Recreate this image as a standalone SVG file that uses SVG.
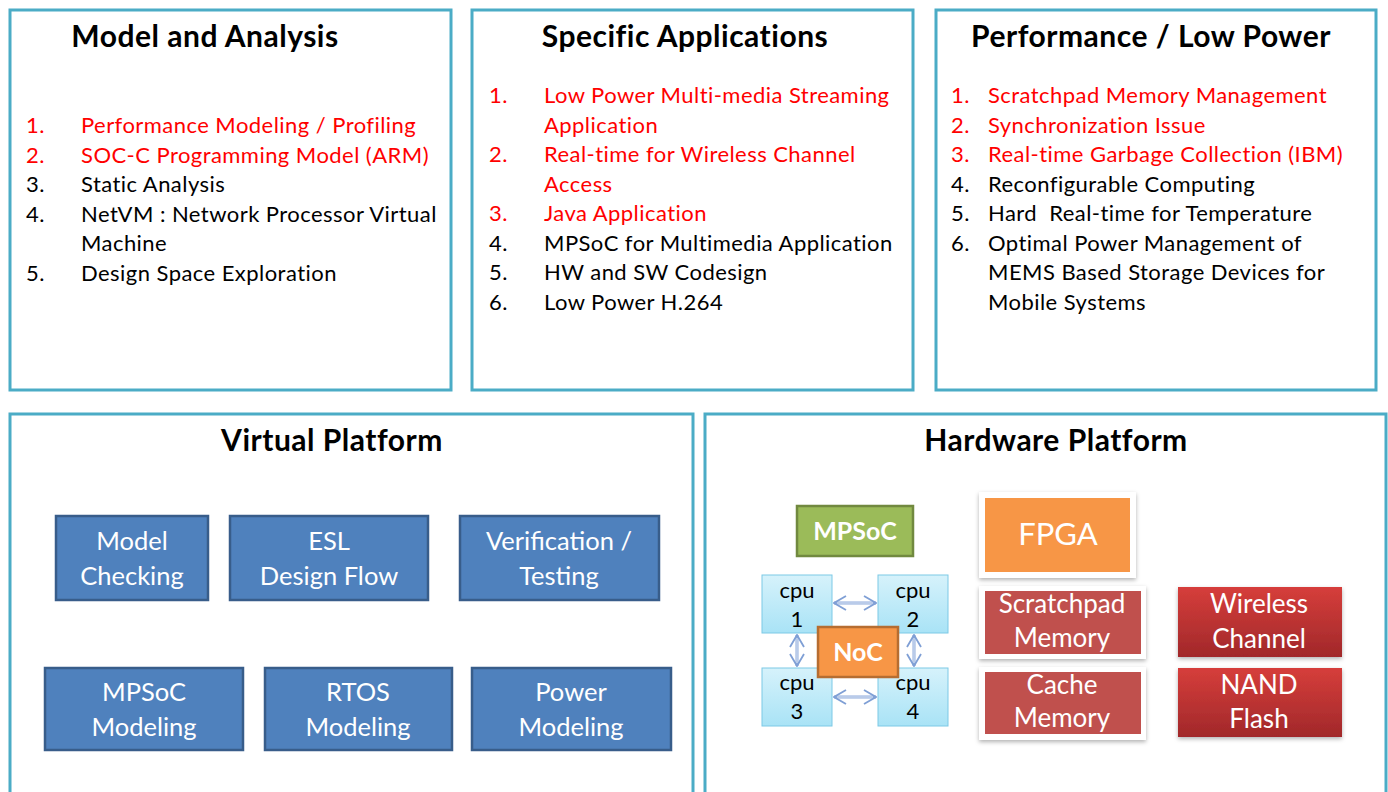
<svg xmlns="http://www.w3.org/2000/svg" width="1388" height="792" viewBox="0 0 1388 792">
<defs>
<style>
text{font-family:Lato,"Noto Sans","Liberation Sans",sans-serif}
.panel{fill:#fff;stroke:#4bacc6;stroke-width:3}
.title{font-size:30px;font-weight:bold;fill:#000;text-anchor:middle;letter-spacing:0.5px}
.li{font-size:22px;fill:#000;letter-spacing:0.45px}
.red{fill:#ff0000}
.vbox{fill:#4f81bd;stroke:#385d8a;stroke-width:2.5}
.vt{font-size:25.5px;fill:#fff;text-anchor:middle}
.cpu{fill:url(#cpuG);stroke:#7cc9e6;stroke-width:1}
.ct{font-size:22px;fill:#000;text-anchor:middle}
.frame{fill:#fff;filter:url(#sh)}
.wt{font-size:26px;fill:#fff;text-anchor:middle}
.conn{stroke:#8eaadb;stroke-width:3;fill:none;marker-start:url(#ah);marker-end:url(#ah)}
.core{stroke:#e4ecf8;stroke-width:1;fill:none}
</style>
<linearGradient id="cpuG" x1="0" y1="0" x2="0" y2="1"><stop offset="0" stop-color="#d6f2fb"/><stop offset="1" stop-color="#a9e3f6"/></linearGradient>
<linearGradient id="redG" x1="0" y1="0" x2="0" y2="1"><stop offset="0" stop-color="#d63e3b"/><stop offset="1" stop-color="#a1282a"/></linearGradient>
<filter id="sh" x="-10%" y="-10%" width="120%" height="130%"><feDropShadow dx="0" dy="2" stdDeviation="2" flood-color="#000" flood-opacity="0.3"/></filter>
<marker id="ah" viewBox="0 0 14 16" refX="13" refY="8" markerWidth="14" markerHeight="16" orient="auto-start-reverse" markerUnits="userSpaceOnUse"><path d="M1,1 L13,8 L1,15" fill="none" stroke="#7f9fd5" stroke-width="1.8"/></marker>
</defs>
<rect width="1388" height="792" fill="#fff"/>

<g id="model-analysis">
<rect class="panel" x="10" y="10" width="441" height="380"/>
<text class="title" x="205" y="47">Model and Analysis</text>
<text class="li red" x="26" y="133">1.</text><text class="li red" x="81" y="133">Performance Modeling / Profiling</text>
<text class="li red" x="26" y="163">2.</text><text class="li red" x="81" y="163">SOC-C Programming Model (ARM)</text>
<text class="li" x="26" y="192">3.</text><text class="li" x="81" y="192">Static Analysis</text>
<text class="li" x="26" y="222">4.</text><text class="li" x="81" y="222">NetVM : Network Processor Virtual</text>
<text class="li" x="81" y="251">Machine</text>
<text class="li" x="26" y="281">5.</text><text class="li" x="81" y="281">Design Space Exploration</text>
</g>

<g id="specific-applications">
<rect class="panel" x="472" y="10" width="441" height="380"/>
<text class="title" x="685" y="47">Specific Applications</text>
<text class="li red" x="489" y="103">1.</text><text class="li red" x="544" y="103">Low Power Multi-media Streaming</text>
<text class="li red" x="544" y="133">Application</text>
<text class="li red" x="489" y="162">2.</text><text class="li red" x="544" y="162">Real-time for Wireless Channel</text>
<text class="li red" x="544" y="192">Access</text>
<text class="li red" x="489" y="221">3.</text><text class="li red" x="544" y="221">Java Application</text>
<text class="li" x="489" y="251">4.</text><text class="li" x="544" y="251">MPSoC for Multimedia Application</text>
<text class="li" x="489" y="280">5.</text><text class="li" x="544" y="280">HW and SW Codesign</text>
<text class="li" x="489" y="310">6.</text><text class="li" x="544" y="310">Low Power H.264</text>
</g>

<g id="performance-low-power">
<rect class="panel" x="936" y="10" width="440" height="380"/>
<text class="title" x="1151" y="47">Performance / Low Power</text>
<text class="li red" x="951" y="103">1.</text><text class="li red" x="988" y="103">Scratchpad Memory Management</text>
<text class="li red" x="951" y="133">2.</text><text class="li red" x="988" y="133">Synchronization Issue</text>
<text class="li red" x="951" y="162">3.</text><text class="li red" x="988" y="162">Real-time Garbage Collection (IBM)</text>
<text class="li" x="951" y="192">4.</text><text class="li" x="988" y="192">Reconfigurable Computing</text>
<text class="li" x="951" y="221">5.</text><text class="li" x="988" y="221" xml:space="preserve">Hard  Real-time for Temperature</text>
<text class="li" x="951" y="251">6.</text><text class="li" x="988" y="251">Optimal Power Management of</text>
<text class="li" x="988" y="280">MEMS Based Storage Devices for</text>
<text class="li" x="988" y="310">Mobile Systems</text>
</g>

<g id="virtual-platform">
<rect class="panel" x="10" y="414" width="683" height="400"/>
<text class="title" x="332" y="451">Virtual Platform</text>
</g>
<g id="model-checking"><rect class="vbox" x="56" y="516" width="152" height="84"/><text class="vt" x="132" y="550">Model</text><text class="vt" x="132" y="585">Checking</text></g>
<g id="esl-design-flow"><rect class="vbox" x="230" y="516" width="198" height="84"/><text class="vt" x="329" y="550">ESL</text><text class="vt" x="329" y="585">Design Flow</text></g>
<g id="verification-testing"><rect class="vbox" x="460" y="516" width="199" height="84"/><text class="vt" x="559" y="550">Verification /</text><text class="vt" x="559" y="585">Testing</text></g>
<g id="mpsoc-modeling"><rect class="vbox" x="45" y="668" width="198" height="82"/><text class="vt" x="144" y="701">MPSoC</text><text class="vt" x="144" y="736">Modeling</text></g>
<g id="rtos-modeling"><rect class="vbox" x="265" y="668" width="187" height="82"/><text class="vt" x="358" y="701">RTOS</text><text class="vt" x="358" y="736">Modeling</text></g>
<g id="power-modeling"><rect class="vbox" x="472" y="668" width="199" height="82"/><text class="vt" x="571" y="701">Power</text><text class="vt" x="571" y="736">Modeling</text></g>

<g id="hardware-platform">
<rect class="panel" x="705" y="414" width="681" height="400"/>
<text class="title" x="1056" y="451">Hardware Platform</text>
</g>
<g id="mpsoc"><rect x="797" y="506" width="116" height="50" fill="#9bbb59" stroke="#71893f" stroke-width="2.5"/><text x="855" y="540" font-size="25" font-weight="bold" fill="#fff" text-anchor="middle">MPSoC</text></g>
<g id="cpu1"><rect class="cpu" x="762" y="575" width="70" height="58"/><text class="ct" x="797" y="598">cpu</text><text class="ct" x="797" y="627">1</text></g>
<g id="cpu2"><rect class="cpu" x="878" y="575" width="70" height="58"/><text class="ct" x="913" y="598">cpu</text><text class="ct" x="913" y="627">2</text></g>
<g id="cpu3"><rect class="cpu" x="762" y="668" width="70" height="58"/><text class="ct" x="797" y="690">cpu</text><text class="ct" x="797" y="719">3</text></g>
<g id="cpu4"><rect class="cpu" x="878" y="668" width="70" height="58"/><text class="ct" x="913" y="690">cpu</text><text class="ct" x="913" y="719">4</text></g>
<g id="connectors">
<line class="conn" x1="834" y1="603" x2="876" y2="603"/>
<line class="conn" x1="834" y1="697" x2="876" y2="697"/>
<line class="conn" x1="797" y1="635" x2="797" y2="666"/>
<line class="conn" x1="914" y1="635" x2="914" y2="666"/>
<line class="core" x1="837" y1="603" x2="873" y2="603"/>
<line class="core" x1="837" y1="697" x2="873" y2="697"/>
<line class="core" x1="797" y1="638" x2="797" y2="663"/>
<line class="core" x1="914" y1="638" x2="914" y2="663"/>
</g>
<g id="noc"><rect x="818" y="627" width="80" height="50" fill="#f79646" stroke="#b66d31" stroke-width="2.5"/><text x="858" y="661" font-size="25" font-weight="bold" fill="#fff" text-anchor="middle">NoC</text></g>

<g id="fpga"><rect class="frame" x="979" y="492" width="157" height="86"/><rect x="985" y="498" width="145" height="74" fill="#f79646"/><text x="1058" y="545" font-size="31" fill="#fff" text-anchor="middle">FPGA</text></g>
<g id="scratchpad-memory"><rect class="frame" x="979" y="586" width="167" height="73"/><rect x="985" y="591" width="156" height="63" fill="#c0504d"/><text class="wt" x="1062" y="613">Scratchpad</text><text class="wt" x="1062" y="647">Memory</text></g>
<g id="cache-memory"><rect class="frame" x="979" y="667" width="167" height="73"/><rect x="985" y="672" width="156" height="62" fill="#c0504d"/><text class="wt" x="1062" y="694">Cache</text><text class="wt" x="1062" y="727">Memory</text></g>
<g id="wireless-channel"><rect x="1178" y="587" width="164" height="70" fill="url(#redG)" filter="url(#sh)"/><text class="wt" x="1259" y="613">Wireless</text><text class="wt" x="1259" y="648">Channel</text></g>
<g id="nand-flash"><rect x="1178" y="668" width="164" height="69" fill="url(#redG)" filter="url(#sh)"/><text class="wt" x="1259" y="694">NAND</text><text class="wt" x="1259" y="728">Flash</text></g>
</svg>
